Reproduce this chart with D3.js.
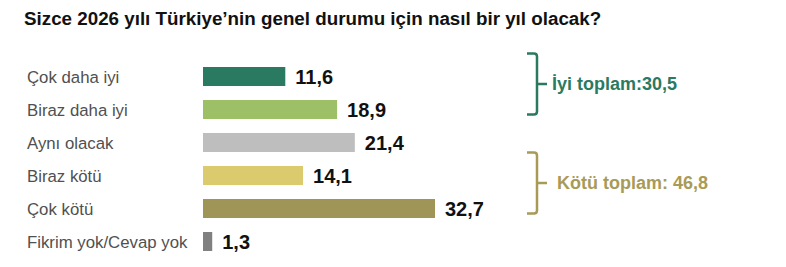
<!DOCTYPE html>
<html>
<head>
<meta charset="utf-8">
<script src="https://cdn.jsdelivr.net/npm/d3@7"></script>
<style>
  html, body { margin: 0; padding: 0; background: #fff; }
  svg { display: block; }
</style>
</head>
<body>
<svg id="chart" width="786" height="267"></svg>
<script>
const title = "Sizce 2026 yılı Türkiye’nin genel durumu için nasıl bir yıl olacak?";
const categories = ["Çok daha iyi", "Biraz daha iyi", "Aynı olacak", "Biraz kötü", "Çok kötü", "Fikrim yok/Cevap yok"];
const values = [11.6, 18.9, 21.4, 14.1, 32.7, 1.3];
const barColors = ["#2a7a62", "#9dc066", "#bebebe", "#dccb6e", "#9e9557", "#808080"];
const groupLabels = ["İyi toplam:30,5", "Kötü toplam: 46,8"];
const groupMembers = [["Çok daha iyi", "Biraz daha iyi"], ["Biraz kötü", "Çok kötü"]];
const groupColors = ["#2a7a62", "#a89b57"];

const fmt = v => v.toFixed(1).replace(".", ",");

const svg = d3.select("#chart");

svg.append("text")
  .attr("x", 24).attr("y", 25)
  .attr("font-family", "Liberation Sans, Arial, sans-serif")
  .attr("font-weight", "bold")
  .attr("font-size", 18.8)
  .attr("fill", "#111")
  .text(title);

const x = d3.scaleLinear().domain([0, 32.7]).range([203, 435]);
const y = d3.scaleBand().domain(categories).range([60, 258])
  .paddingInner(14 / 33).paddingOuter(7 / 33);

// category labels
svg.append("g").selectAll("text").data(categories).join("text")
  .attr("x", 27)
  .attr("y", d => y(d) + y.bandwidth() / 2)
  .attr("dy", "0.36em")
  .attr("font-family", "Liberation Sans, Arial, sans-serif")
  .attr("font-size", 16.8)
  .attr("fill", "#505050")
  .text(d => d);

// bars
svg.append("g").selectAll("rect").data(values).join("rect")
  .attr("x", x(0))
  .attr("y", (d, i) => y(categories[i]))
  .attr("width", d => x(d) - x(0))
  .attr("height", y.bandwidth())
  .attr("fill", (d, i) => barColors[i]);

// value labels
svg.append("g").selectAll("text").data(values).join("text")
  .attr("x", d => x(d) + 10)
  .attr("y", (d, i) => y(categories[i]) + y.bandwidth() / 2)
  .attr("dy", "0.37em")
  .attr("font-family", "Liberation Sans, Arial, sans-serif")
  .attr("font-weight", "bold")
  .attr("font-size", 20)
  .attr("fill", "#111")
  .text(d => fmt(d));

// brackets
const bx0 = 527, bx1 = 537, btick = 547, r = 3;
groupMembers.forEach((members, gi) => {
  const first = members[0], last = members[members.length - 1];
  const cy = (y(first) + y(last) + y.bandwidth()) / 2 - 9;
  const top = cy - 30.5, bot = cy + 30.5;
  const p = d3.path();
  p.moveTo(bx0, top);
  p.lineTo(bx1 - r, top);
  p.quadraticCurveTo(bx1, top, bx1, top + r);
  p.lineTo(bx1, bot - r);
  p.quadraticCurveTo(bx1, bot, bx1 - r, bot);
  p.lineTo(bx0, bot);
  p.moveTo(bx1, cy);
  p.lineTo(btick, cy);
  svg.append("path")
    .attr("d", p.toString())
    .attr("fill", "none")
    .attr("stroke", groupColors[gi])
    .attr("stroke-width", 2.5);
  svg.append("text")
    .attr("x", gi === 0 ? 552 : 557)
    .attr("y", cy)
    .attr("dy", "0.36em")
    .attr("font-family", "Liberation Sans, Arial, sans-serif")
    .attr("font-weight", "bold")
    .attr("font-size", 18)
    .attr("fill", groupColors[gi])
    .text(groupLabels[gi]);
});
</script>
</body>
</html>
